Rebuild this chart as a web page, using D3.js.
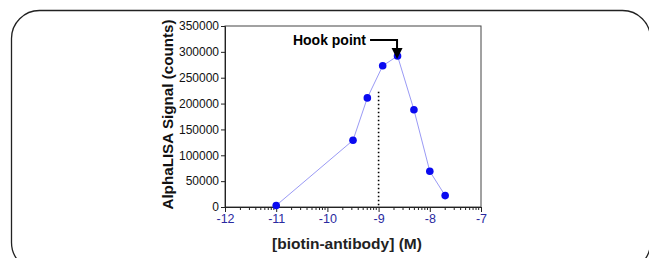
<!DOCTYPE html>
<html>
<head>
<meta charset="utf-8">
<script src="https://cdn.jsdelivr.net/npm/d3@7"></script>
<style>
  body { margin: 0; background: #fff; }
  text { font-family: Arial, "Liberation Sans", sans-serif; }
</style>
</head>
<body>
<div id="chart"></div>
<script>
var svgWidth = 649;
var svgHeight = 258;

// data
var logConc = [-11, -9.5, -9.22, -8.92, -8.63, -8.31, -8.0, -7.7];
var signal = [3000, 129000, 211000, 273000, 292000, 188000, 69000, 22000];
var xTicks = [-12, -11, -10, -9, -8, -7];
var yTicks = [0, 50000, 100000, 150000, 200000, 250000, 300000, 350000];
var hookLineX = -9;
var hookLineTop = 223000;
var hookPointX = -8.63;

var margin = { top: 26, left: 225, right: 168, bottom: 51 };
var width = 481 - margin.left;
var height = 207 - margin.top;

var svg = d3.select("#chart")
    .append("svg")
    .attr("width", svgWidth)
    .attr("height", svgHeight);

// rounded outer frame
svg.append("rect")
    .attr("x", 11.5)
    .attr("y", 10.5)
    .attr("width", 639)
    .attr("height", 260)
    .attr("rx", 28)
    .attr("fill", "none")
    .attr("stroke", "#222")
    .attr("stroke-width", 1.3);

var chartGroup = svg.append("g")
    .attr("transform", `translate(${margin.left}, ${margin.top})`);

var xScale = d3.scaleLinear().domain([-12, -7]).range([0, width]);
var yScale = d3.scaleLinear().domain([0, 350000]).range([height, 0]);

// plot box
chartGroup.append("rect")
    .attr("x", 0).attr("y", 0)
    .attr("width", width).attr("height", height)
    .attr("fill", "none")
    .attr("stroke", "#444")
    .attr("stroke-width", 1);

// minor log ticks
var minorTicks = [];
for (var dec = -12; dec < -7; dec++) {
    for (var k = 2; k <= 9; k++) minorTicks.push(dec + Math.log10(k));
}
chartGroup.append("g")
    .attr("transform", `translate(0, ${height})`)
    .selectAll("line")
    .data(minorTicks)
    .enter()
    .append("line")
    .attr("x1", d => xScale(d)).attr("x2", d => xScale(d))
    .attr("y1", 0).attr("y2", 3)
    .attr("stroke", "#222");

var bottomAxis = d3.axisBottom(xScale)
    .tickValues(xTicks)
    .tickSize(5)
    .tickPadding(2)
    .tickFormat(d => d);
var xAxis = chartGroup.append("g")
    .attr("transform", `translate(0, ${height})`)
    .call(bottomAxis);
xAxis.select(".domain").attr("stroke", "#222");
xAxis.selectAll(".tick line").attr("stroke", "#222");
xAxis.selectAll("text")
    .attr("fill", "#2a2aa0")
    .style("font-size", "12.5px");

var leftAxis = d3.axisLeft(yScale)
    .tickValues(yTicks)
    .tickSize(4)
    .tickPadding(2)
    .tickFormat(d3.format("d"));
var yAxis = chartGroup.append("g").call(leftAxis);
yAxis.select(".domain").attr("stroke", "#222");
yAxis.selectAll(".tick line").attr("stroke", "#222");
yAxis.selectAll("text")
    .attr("fill", "#111")
    .style("font-size", "12px");

// dotted vertical line
chartGroup.append("line")
    .attr("x1", xScale(hookLineX)).attr("x2", xScale(hookLineX))
    .attr("y1", yScale(hookLineTop)).attr("y2", height)
    .attr("stroke", "#000")
    .attr("stroke-width", 1.6)
    .attr("stroke-dasharray", "1.6,2.4");

var points = logConc.map((x, i) => ({ x: x, y: signal[i] }));

chartGroup.append("path")
    .datum(points)
    .attr("d", d3.line().x(d => xScale(d.x)).y(d => yScale(d.y)))
    .attr("fill", "none")
    .attr("stroke", "#9a9af5")
    .attr("stroke-width", 1);

chartGroup.selectAll("circle")
    .data(points)
    .enter()
    .append("circle")
    .attr("cx", d => xScale(d.x))
    .attr("cy", d => yScale(d.y))
    .attr("r", 3.8)
    .attr("fill", "#0a0af0");

// hook point annotation
var hx = xScale(hookPointX) - 0.5;
var hy = 40 - margin.top;
chartGroup.append("path")
    .attr("d", `M${hx - 27},${hy} H${hx} V${hy + 10}`)
    .attr("fill", "none")
    .attr("stroke", "#000")
    .attr("stroke-width", 2);
chartGroup.append("path")
    .attr("d", `M${hx - 5.5},${hy + 8} L${hx + 5.5},${hy + 8} L${hx},${hy + 19} Z`)
    .attr("fill", "#000");
chartGroup.append("text")
    .attr("x", hx - 31)
    .attr("y", hy + 5)
    .attr("text-anchor", "end")
    .style("font-size", "14px")
    .style("font-weight", "bold")
    .text("Hook point");

// axis labels
svg.append("text")
    .attr("transform", `translate(173, ${margin.top + height / 2 - 2}) rotate(-90)`)
    .attr("text-anchor", "middle")
    .style("font-size", "15.2px")
    .style("font-weight", "bold")
    .attr("fill", "#111")
    .text("AlphaLISA Signal (counts)");

svg.append("text")
    .attr("x", 347)
    .attr("y", 249)
    .attr("text-anchor", "middle")
    .style("font-size", "15.5px")
    .style("font-weight", "bold")
    .attr("fill", "#222")
    .text("[biotin-antibody] (M)");
</script>
</body>
</html>
